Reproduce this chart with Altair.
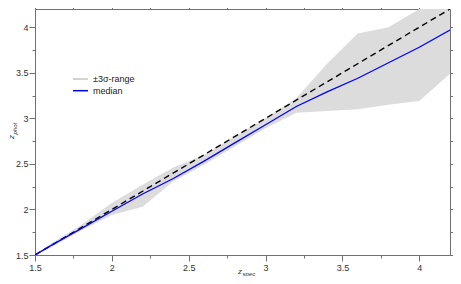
import altair as alt
import pandas as pd

# values
z_spec = [1.5, 1.6, 1.8, 2.0, 2.2, 2.4, 2.6, 2.8, 3.0, 3.2, 3.4, 3.6, 3.8, 4.0, 4.2]
median = [1.5, 1.6, 1.79, 1.98, 2.17, 2.34, 2.53, 2.73, 2.93, 3.13, 3.29, 3.44, 3.61, 3.78, 3.97]
upper = [1.5, 1.62, 1.83, 2.07, 2.27, 2.46, 2.6, 2.8, 3.0, 3.22, 3.6, 3.93, 4.0, 4.2, 4.45]
lower = [1.5, 1.58, 1.77, 1.94, 2.03, 2.31, 2.49, 2.69, 2.89, 3.06, 3.08, 3.1, 3.15, 3.19, 3.49]
diag = [1.5, 4.2]
tick_values = [1.5, 1.75, 2.0, 2.25, 2.5, 2.75, 3.0, 3.25, 3.5, 3.75, 4.0]
series_names = ["±3σ-range", "median"]
series_colors = ["#d3d3d3", "#0000ff"]

FONT = "Liberation Sans"
AXC = "#707070"

band_df = pd.DataFrame({"x": z_spec, "lo": lower, "hi": upper})
med_df = pd.DataFrame({"x": z_spec, "y": median})
diag_df = pd.DataFrame({"x": diag, "y": diag})

dom = [1.5, 4.2]
xs = alt.Scale(domain=dom, nice=False, zero=False)
ys = alt.Scale(domain=dom, nice=False, zero=False)

is_major = "datum.value % 0.5 === 0"
lab_expr = f"{is_major} ? format(datum.value, '~g') : ''"
tsize = {"condition": {"test": is_major, "value": 6}, "value": 3}

common_axis = dict(
    values=tick_values, grid=False, domainColor=AXC, tickColor=AXC,
    labelFont=FONT, labelFontSize=9, labelColor="#333", labelExpr=lab_expr,
    labelOverlap=False, labelFlush=False, title=None, tickSize=tsize,
)

x_bottom = alt.Axis(orient="bottom", labelPadding=2, **common_axis)
y_left = alt.Axis(orient="left", labelPadding=1, **common_axis)
top_kw = dict(common_axis)
top_kw.update(labels=False)
x_top = alt.Axis(orient="top", **top_kw)
y_right = alt.Axis(orient="right", **top_kw)

band = alt.Chart(band_df).mark_area(color="#dcdcdc", clip=True).encode(
    x=alt.X("x:Q", scale=xs, axis=x_bottom),
    y=alt.Y("lo:Q", scale=ys, axis=y_left),
    y2="hi:Q",
)

diag_line = alt.Chart(diag_df).mark_line(
    color="black", strokeDash=[6, 4], strokeWidth=1.4, clip=True
).encode(
    x=alt.X("x:Q", scale=xs, axis=x_top),
    y=alt.Y("y:Q", scale=ys, axis=y_right),
)

med_line = alt.Chart(med_df).mark_line(strokeWidth=1.3, clip=True, color=series_colors[1]).encode(
    x=alt.X("x:Q", scale=xs, axis=None),
    y=alt.Y("y:Q", scale=ys, axis=None),
)

# legend (drawn as small marks in the upper-left corner)
tdf = pd.DataFrame({"t": [0]})
leg_parts = []
for i, (name, col) in enumerate(zip(series_names, series_colors)):
    yy = 70 + i * 11.7
    leg_parts.append(
        alt.Chart(tdf).mark_rule(color=col, strokeWidth=2 if i == 0 else 1.5).encode(
            x=alt.value(38), x2=alt.value(53), y=alt.value(yy)
        )
    )
    leg_parts.append(
        alt.Chart(tdf).mark_text(
            text=name, font=FONT, fontSize=9, align="left", baseline="middle", color="#222"
        ).encode(x=alt.value(58), y=alt.value(yy))
    )

xt_z = alt.Chart(tdf).mark_text(
    text="z", font=FONT, fontSize=8, fontStyle="italic", align="left", baseline="alphabetic", color="#333"
).encode(x=alt.value(203), y=alt.value(264.5))
xt_s = alt.Chart(tdf).mark_text(
    text="spec", font=FONT, fontSize=6, fontStyle="italic", align="left", baseline="alphabetic", color="#333"
).encode(x=alt.value(207.5), y=alt.value(266.5))
yt_z = alt.Chart(tdf).mark_text(
    text="z", font=FONT, fontSize=8, fontStyle="italic", align="left", baseline="alphabetic", angle=270, color="#333"
).encode(x=alt.value(-21), y=alt.value(130))
yt_s = alt.Chart(tdf).mark_text(
    text="phot", font=FONT, fontSize=6, fontStyle="italic", align="left", baseline="alphabetic", angle=270, color="#333"
).encode(x=alt.value(-18), y=alt.value(125.5))

chart = alt.layer(band, diag_line, med_line, *leg_parts, xt_z, xt_s, yt_z, yt_s).resolve_axis(
    x="independent", y="independent"
).properties(
    width=415, height=246,
    autosize=alt.AutoSizeParams(type="none"),
    padding={"left": 27, "top": 1, "right": 3, "bottom": 21},
).configure_view(stroke=None)

chart.save("out.html", embed_options={"renderer": "svg", "actions": False})
